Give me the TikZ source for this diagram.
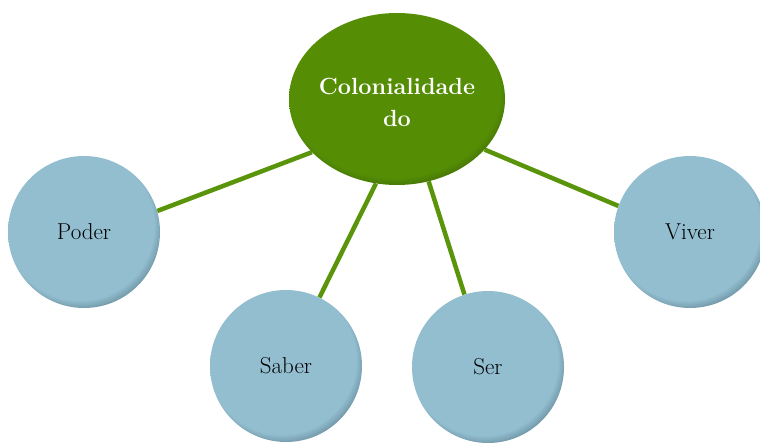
\documentclass[tikz,border=0pt]{standalone}
\usepackage{fontspec}
\setmainfont{Latin Modern Roman}
\usetikzlibrary{shapes.geometric,backgrounds}
\definecolor{bluebase}{RGB}{146,190,208}
\definecolor{bluedark}{RGB}{62,90,102}
\definecolor{greenbase}{RGB}{85,142,5}
\definecolor{greendark}{RGB}{40,72,4}
\definecolor{linegreen}{RGB}{90,148,10}
\pgfdeclareradialshading{bluebevel}{\pgfpoint{-3bp}{4bp}}{color(0bp)=(bluebase); color(24.5bp)=(bluebase); color(27bp)=(bluebase!65!bluedark); color(30bp)=(bluedark); color(50bp)=(bluedark)}
\pgfdeclareradialshading{greenbevel}{\pgfpoint{-1.5bp}{3.5bp}}{color(0bp)=(greenbase); color(24.5bp)=(greenbase); color(27bp)=(greenbase!65!greendark); color(29bp)=(greendark); color(50bp)=(greendark)}
\tikzset{
  bubble/.style={circle, minimum size=152pt, inner sep=0pt, shade, shading=bluebevel,
    font=\fontsize{23}{27}\selectfont, text=black},
  hub/.style={ellipse, minimum width=216pt, minimum height=172pt, inner sep=0pt, shade, shading=greenbevel},
  hubtext/.style={font=\bfseries\fontsize{23.4}{32}\selectfont, text=white, align=center},
  link/.style={draw=linegreen, line width=4.5pt}
}
\begin{document}
\begin{tikzpicture}[x=1pt,y=-1pt]
\useasboundingbox (0,0) rectangle (760,442);
\node[hub] (ell) at (397,99) {};
\node[hubtext] (title) at (397,102) {Colonialidade\\do};
\node[bubble] (poder) at (84,232) {Poder};
\node[bubble] (saber) at (286,366) {Saber};
\node[bubble] (ser) at (488,367) {Ser};
\node[bubble] (viver) at (690,232) {Viver};
\begin{pgfonlayer}{background}
\draw[link] (ell.212) -- (poder.16);
\draw[link] (ell.256) -- (saber.64);
\draw[link] (ell.291) -- (ser.108);
\draw[link] (ell.330) -- (viver.160);
\end{pgfonlayer}
\end{tikzpicture}
\end{document}
